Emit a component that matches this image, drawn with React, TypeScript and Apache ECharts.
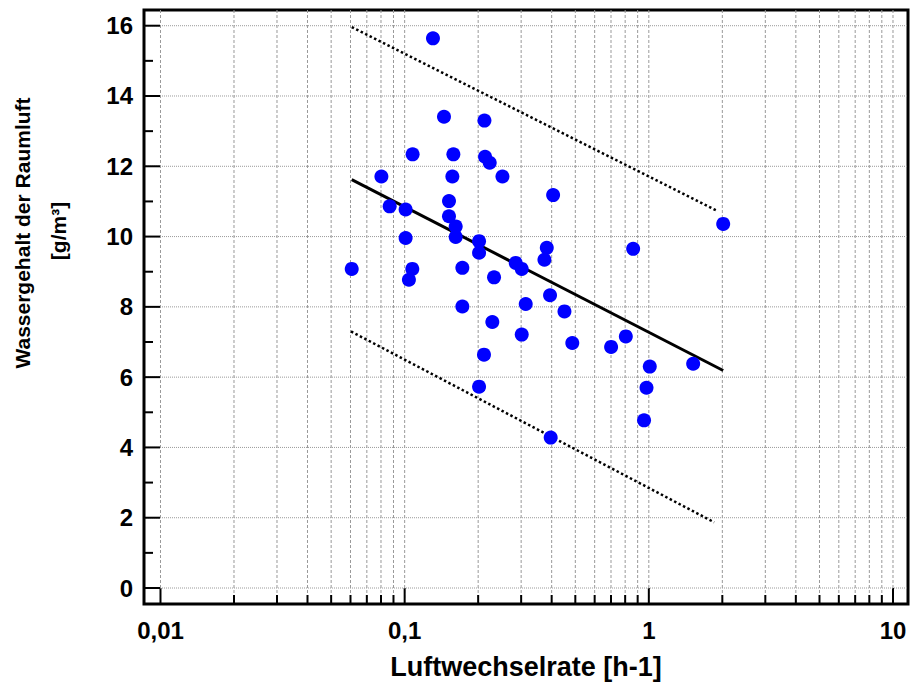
import React, { useEffect, useRef } from 'react';
import * as echarts from 'echarts';

// Measured data (Luftwechselrate [h-1] vs. Wassergehalt [g/m³])
const airChangeRate = [
  0.0607, 0.0803, 0.0868, 0.1009, 0.1009, 0.1041, 0.1075, 0.1078, 0.1306, 0.1449,
  0.1519, 0.1519, 0.1568, 0.1583, 0.1618, 0.1618, 0.1723, 0.1723, 0.2017, 0.2017,
  0.2017, 0.2113, 0.2122, 0.2134, 0.223, 0.2286, 0.2323, 0.2515, 0.285, 0.3016,
  0.3016, 0.3132, 0.3736, 0.382, 0.3939, 0.3963, 0.4055, 0.4513, 0.4859, 0.7006,
  0.805, 0.8626, 0.956, 0.9784, 1.009, 1.519, 2.016,
];
const waterContent = [
  9.08, 11.71, 10.86, 10.77, 9.96, 8.77, 9.08, 12.34, 15.64, 13.41,
  11.01, 10.58, 11.71, 12.34, 10.29, 9.99, 9.11, 8.01, 9.87, 9.54,
  5.73, 6.64, 13.3, 12.27, 12.1, 7.57, 8.84, 11.71, 9.25, 9.08,
  7.21, 8.08, 9.34, 9.68, 8.33, 4.28, 11.18, 7.87, 6.97, 6.86,
  7.16, 9.65, 4.77, 5.7, 6.3, 6.38, 10.36,
];

// Regression line and bounds (end points)
const regressionX = [0.0607, 2.016];
const regressionY = [11.62, 6.19];
const upperBoundX = [0.0607, 1.882];
const upperBoundY = [15.96, 10.75];
const lowerBoundX = [0.0603, 1.852];
const lowerBoundY = [7.3, 1.87];

// Axis ticks
const xDecades = [0.01, 0.1, 1, 10];
const xTickLabels = ['0,01', '0,1', '1', '10'];
const xMinorMultipliers = [2, 3, 4, 5, 6, 7, 8, 9];
const yMajorTicks = [0, 2, 4, 6, 8, 10, 12, 14, 16];
const yMinorTicks = [1, 3, 5, 7, 9, 11, 13, 15];

const X_MIN = 0.00856;
const X_MAX = 11.52;
const Y_MIN = -0.455;
const Y_MAX = 16.447;

const FONT = '"Liberation Sans", Arial, Helvetica, sans-serif';

export default function App() {
  const ref = useRef<HTMLDivElement>(null);

  useEffect(() => {
    if (!ref.current) return;
    const chart = echarts.init(ref.current, undefined, { renderer: 'svg' });

    const points = airChangeRate.map((x, i) => [x, waterContent[i]]);
    const pair = (xs: number[], ys: number[]) => xs.map((x, i) => [x, ys[i]]);

    const xTickData: number[][] = [];
    xDecades.forEach((d, i) => {
      xTickData.push([d, Y_MIN, 1]);
      if (i < xDecades.length - 1) {
        xMinorMultipliers.forEach((m) => xTickData.push([d * m, Y_MIN, 0]));
      }
    });
    const yTickData: number[][] = [
      ...yMajorTicks.map((v) => [X_MIN, v, 1]),
      ...yMinorTicks.map((v) => [X_MIN, v, 0]),
    ];

    const xLabel = (v: number) => {
      const idx = xDecades.findIndex((d) => Math.abs(Math.log10(v) - Math.log10(d)) < 1e-6);
      return idx >= 0 ? xTickLabels[idx] : '';
    };
    const yLabel = (v: number) => {
      const idx = yMajorTicks.findIndex((t) => Math.abs(t - v) < 1e-6);
      return idx >= 0 ? String(yMajorTicks[idx]) : '';
    };

    chart.setOption({
      animation: false,
      backgroundColor: '#ffffff',
      grid: {
        left: 144,
        top: 10,
        right: 4,
        bottom: 86,
        show: true,
        borderColor: '#000',
        borderWidth: 3,
        backgroundColor: 'transparent',
        containLabel: false,
        outerBoundsMode: 'none',
      },
      xAxis: {
        type: 'log',
        logBase: 10,
        min: X_MIN,
        max: X_MAX,
        name: 'Luftwechselrate [h-1]',
        nameLocation: 'middle',
        nameGap: 49,
        nameTextStyle: { fontSize: 27, fontWeight: 'bold', fontFamily: FONT, color: '#000' },
        axisLine: { show: false },
        axisTick: { show: false },
        splitLine: { show: false },
        minorTick: { show: false },
        axisLabel: {
          formatter: xLabel,
          margin: 14,
          fontSize: 24,
          fontWeight: 'bold',
          fontFamily: FONT,
          color: '#000',
          showMinLabel: true,
          showMaxLabel: true,
          hideOverlap: false,
        },
      },
      yAxis: {
        type: 'value',
        min: Y_MIN,
        max: Y_MAX,
        splitNumber: 8,
        axisLine: { show: false },
        axisTick: { show: false },
        splitLine: { show: false },
        axisLabel: {
          formatter: yLabel,
          margin: 11,
          fontSize: 24,
          fontWeight: 'bold',
          fontFamily: FONT,
          color: '#000',
          showMinLabel: true,
          showMaxLabel: true,
        },
      },
      graphic: [
        {
          type: 'text',
          x: 22,
          y: 233,
          rotation: Math.PI / 2,
          style: {
            text: 'Wassergehalt der Raumluft',
            fill: '#000',
            fontSize: 21,
            fontWeight: 'bold',
            fontFamily: FONT,
            align: 'center',
            verticalAlign: 'middle',
          },
        },
        {
          type: 'text',
          x: 58,
          y: 231,
          rotation: Math.PI / 2,
          style: {
            text: '[g/m³]',
            fill: '#000',
            fontSize: 21,
            fontWeight: 'bold',
            fontFamily: FONT,
            align: 'center',
            verticalAlign: 'middle',
          },
        },
      ],
      series: [
        {
          type: 'custom',
          name: 'xgrid',
          clip: false,
          silent: true,
          z: 1,
          data: xTickData,
          renderItem: (params: any, api: any) => {
            const xv = api.value(0);
            const major = api.value(2) === 1;
            const p = api.coord([xv, Y_MIN]);
            const cs = params.coordSys;
            const bottom = cs.y + cs.height;
            return {
              type: 'group',
              children: [
                {
                  type: 'line',
                  shape: { x1: p[0], y1: cs.y, x2: p[0], y2: bottom },
                  style: { stroke: '#999', lineWidth: 1, lineDash: [3, 2] },
                },
                {
                  type: 'line',
                  shape: { x1: p[0], y1: bottom, x2: p[0], y2: bottom - (major ? 16 : 9) },
                  style: { stroke: '#000', lineWidth: 2 },
                },
              ],
            };
          },
        },
        {
          type: 'custom',
          name: 'ygrid',
          clip: false,
          silent: true,
          z: 1,
          data: yTickData,
          renderItem: (params: any, api: any) => {
            const yv = api.value(1);
            const major = api.value(2) === 1;
            const p = api.coord([X_MIN, yv]);
            const cs = params.coordSys;
            const children: any[] = [
              {
                type: 'line',
                shape: { x1: cs.x, y1: p[1], x2: cs.x + (major ? 16 : 9), y2: p[1] },
                style: { stroke: '#000', lineWidth: 2 },
              },
            ];
            if (major) {
              children.unshift({
                type: 'line',
                shape: { x1: cs.x, y1: p[1], x2: cs.x + cs.width, y2: p[1] },
                style: { stroke: '#9a9a9a', lineWidth: 1, lineDash: [1, 1] },
              });
            }
            return { type: 'group', children };
          },
        },
        {
          type: 'line',
          name: 'upper',
          data: pair(upperBoundX, upperBoundY),
          symbol: 'none',
          z: 2,
          lineStyle: { color: '#000', width: 2.5, type: [2.5, 2.5] },
        },
        {
          type: 'line',
          name: 'lower',
          data: pair(lowerBoundX, lowerBoundY),
          symbol: 'none',
          z: 2,
          lineStyle: { color: '#000', width: 2.5, type: [2.5, 2.5] },
        },
        {
          type: 'line',
          name: 'regression',
          data: pair(regressionX, regressionY),
          symbol: 'none',
          z: 3,
          lineStyle: { color: '#000', width: 3 },
        },
        {
          type: 'scatter',
          name: 'data',
          data: points,
          symbol: 'circle',
          symbolSize: 14,
          z: 4,
          itemStyle: { color: '#0000ff', opacity: 1 },
        },
      ],
    });

    return () => chart.dispose();
  }, []);

  return (
    <div
      ref={ref}
      style={{ position: 'fixed', left: 0, top: 0, width: 912, height: 690, background: '#fff' }}
    />
  );
}
